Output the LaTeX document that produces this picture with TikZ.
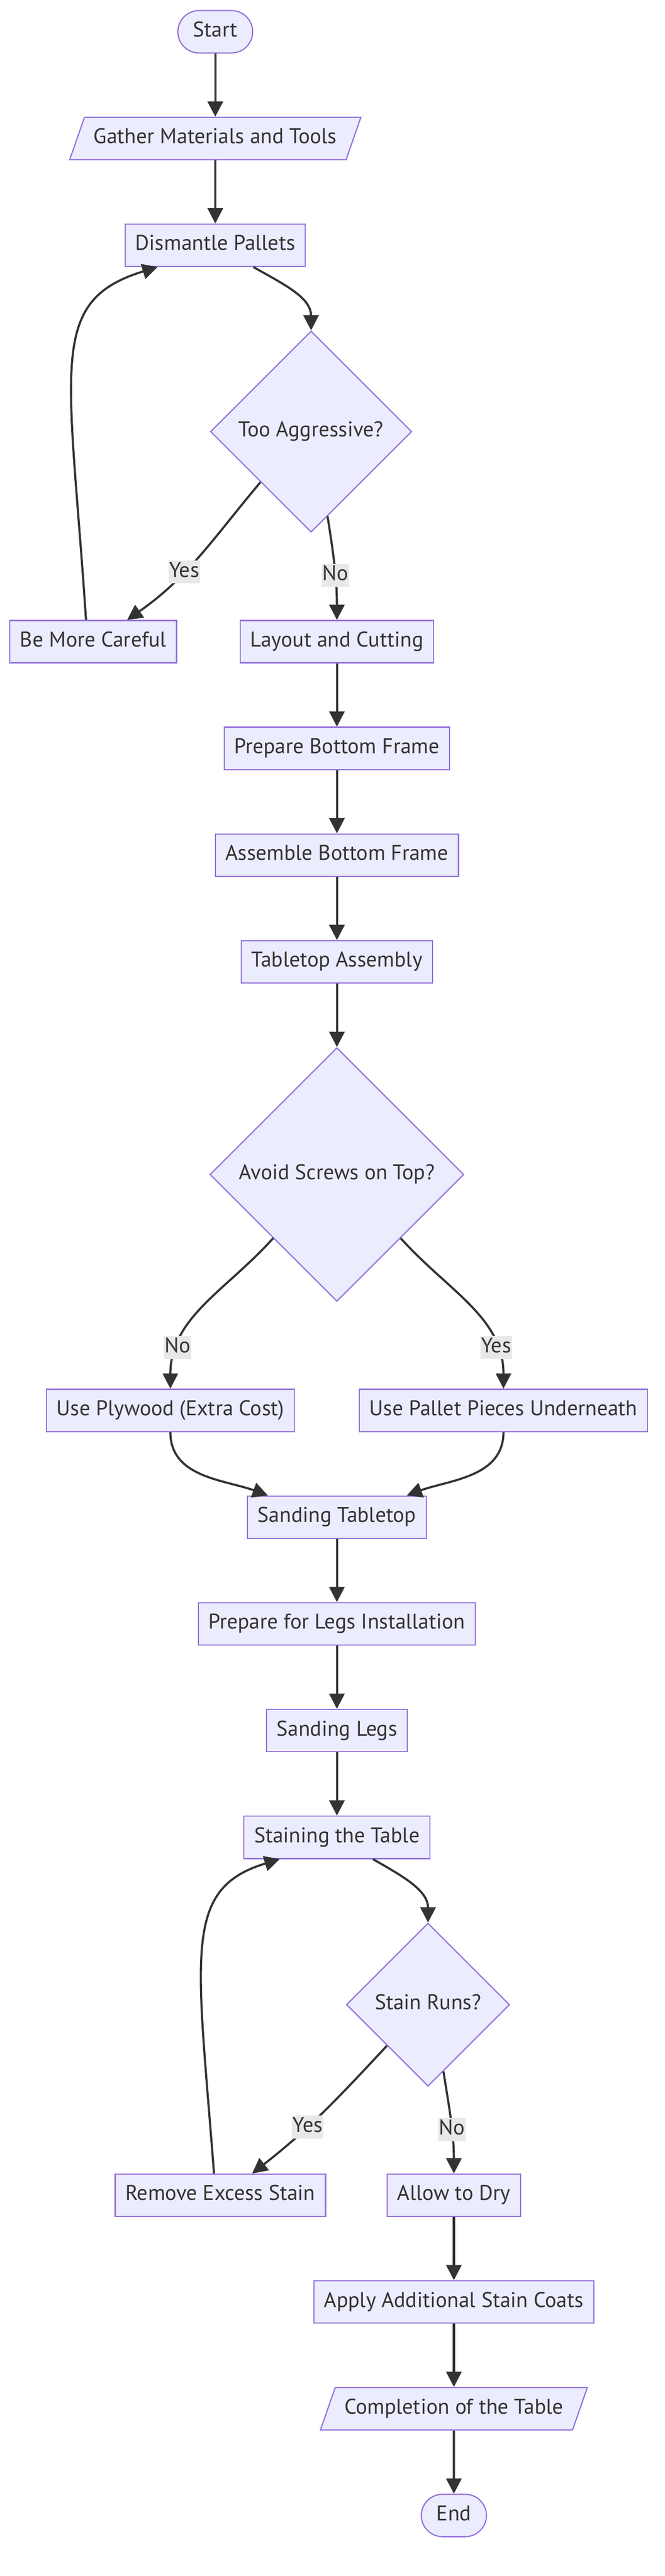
\documentclass[tikz,border=0pt]{standalone}
\usepackage{fontspec}
\setmainfont{PT Sans}
\usetikzlibrary{shapes.geometric, arrows.meta}
\definecolor{nodefill}{HTML}{ECECFF}
\definecolor{nodeborder}{HTML}{9370DB}
\definecolor{inkdark}{HTML}{333333}
\definecolor{labelgray}{HTML}{E8E8E8}
\tikzstyle{startstop} = [rectangle, rounded corners=12.5pt, minimum height=25pt, inner xsep=9pt, text height=9pt, text depth=3pt, text centered, draw=nodeborder, fill=nodefill, line width=0.7pt]
\tikzstyle{process} = [rectangle, minimum height=25pt, inner xsep=6pt, text height=9pt, text depth=3pt, text centered, draw=nodeborder, fill=nodefill, line width=0.7pt]
\tikzstyle{io} = [trapezium, trapezium left angle=65, trapezium right angle=115, trapezium stretches=true, minimum height=25pt, inner xsep=5.5pt, text height=9pt, text depth=3pt, text centered, draw=nodeborder, fill=nodefill, line width=0.7pt]
\tikzstyle{decision} = [diamond, aspect=1, minimum size=118.75pt, inner sep=0pt, text height=9pt, text depth=3pt, text centered, draw=nodeborder, fill=nodefill, line width=0.7pt]
\tikzstyle{arrow} = [line width=1.25pt, draw=inkdark, ->, >={Triangle[length=9pt, width=9pt]}]
\tikzstyle{edgelabel} = [fill=labelgray, inner xsep=0.5pt, inner ysep=0.8pt, text height=9pt, text depth=3pt]

\begin{document}
\begin{tikzpicture}[node distance=63pt, font=\fontsize{12.6}{15}\selectfont, text=inkdark]
    \path[use as bounding box, fill=white] (-127pt,18.75pt) rectangle (265pt,-1501.75pt);

    % Nodes
    \node (start) [startstop] {Start};
    \node (gather) [io, below of=start] {Gather Materials and Tools};
    \node (dismantle) [process, below of=gather] {Dismantle Pallets};
    \node (aggressive) [decision, below of=dismantle, xshift=56.5pt, yshift=-47pt] {Too Aggressive?};
    \node (careful) [process, below of=aggressive, xshift=-128.5pt, yshift=-61pt] {Be More Careful};
    \node (layout) [process, below of=aggressive, xshift=15.25pt, yshift=-61pt] {Layout and Cutting};
    \node (prepframe) [process, below of=layout] {Prepare Bottom Frame};
    \node (assemble) [process, below of=prepframe] {Assemble Bottom Frame};
    \node (tabletop) [process, below of=assemble] {Tabletop Assembly};
    \node (screws) [decision, below of=tabletop, yshift=-62.5pt, minimum size=149.75pt] {Avoid Screws on Top?};
    \node (plywood) [process, below of=screws, xshift=-98.25pt, yshift=-76.25pt] {Use Plywood (Extra Cost)};
    \node (underneath) [process, below of=screws, xshift=98.25pt, yshift=-76.25pt] {Use Pallet Pieces Underneath};
    \node (sandtop) [process, below of=plywood, xshift=98.25pt] {Sanding Tabletop};
    \node (preplegs) [process, below of=sandtop] {Prepare for Legs Installation};
    \node (sandlegs) [process, below of=preplegs] {Sanding Legs};
    \node (staining) [process, below of=sandlegs] {Staining the Table};
    \node (runs) [decision, below of=staining, xshift=53.75pt, yshift=-35.75pt, minimum size=96.25pt] {Stain Runs?};
    \node (remove) [process, below of=runs, xshift=-122.5pt, yshift=-49.5pt] {Remove Excess Stain};
    \node (dry) [process, below of=runs, xshift=15.25pt, yshift=-49.5pt] {Allow to Dry};
    \node (coats) [process, below of=dry] {Apply Additional Stain Coats};
    \node (completion) [io, below of=coats] {Completion of the Table};
    \node (end) [startstop, below of=completion] {End};

    % Arrows
    \draw [arrow] (start) -- (gather);
    \draw [arrow] (gather) -- (dismantle);
    \draw [arrow] ([xshift=22.5pt]dismantle.south) to[out=-30, in=90] (aggressive.north);
    \draw [arrow] (aggressive.south west) to[out=-130, in=35] node[edgelabel, pos=0.62] {Yes} ([xshift=20pt]careful.north);
    \draw [arrow] (aggressive.-79) to[out=-81, in=90] node[edgelabel, pos=0.58] {No} (layout.north);
    \draw [arrow] ([xshift=-4.25pt]careful.north) .. controls +(-10pt,150pt) and +(-65.5pt,-20pt) .. ([xshift=-34pt]dismantle.south);
    \draw [arrow] (layout) -- (prepframe);
    \draw [arrow] (prepframe) -- (assemble);
    \draw [arrow] (assemble) -- (tabletop);
    \draw [arrow] (tabletop) -- (screws);
    \draw [arrow] (screws.south west) to[out=-132, in=90] node[edgelabel, pos=0.78] {No} (plywood.north);
    \draw [arrow] (screws.south east) to[out=-48, in=90] node[edgelabel, pos=0.78] {Yes} (underneath.north);
    \draw [arrow] (plywood.south) to[out=-90, in=160] ([xshift=-40.75pt]sandtop.north);
    \draw [arrow] (underneath.south) to[out=-90, in=20] ([xshift=41.25pt]sandtop.north);
    \draw [arrow] (sandtop) -- (preplegs);
    \draw [arrow] (preplegs) -- (sandlegs);
    \draw [arrow] (sandlegs) -- (staining);
    \draw [arrow] ([xshift=21.25pt]staining.south) to[out=-30, in=90] (runs.north);
    \draw [arrow] (runs.south west) to[out=-133, in=38] node[edgelabel, pos=0.62] {Yes} ([xshift=18.75pt]remove.north);
    \draw [arrow] (runs.-77) to[out=-81, in=90] node[edgelabel, pos=0.58] {No} (dry.north);
    \draw [arrow] ([xshift=-3.75pt]remove.north) .. controls +(-10pt,130pt) and +(-57.5pt,-17.5pt) .. ([xshift=-33.75pt]staining.south);
    \draw [arrow] (dry) -- (coats);
    \draw [arrow] (coats) -- (completion);
    \draw [arrow] (completion) -- (end);
\end{tikzpicture}
\end{document}
